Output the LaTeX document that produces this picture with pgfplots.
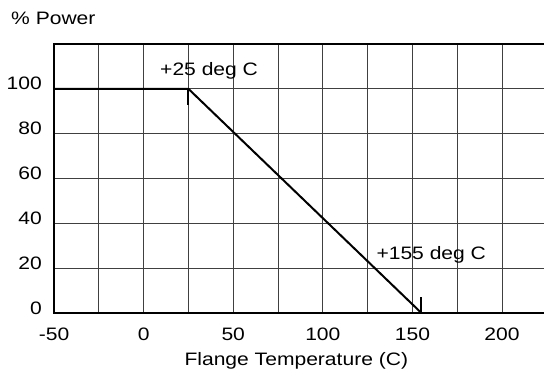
\documentclass[border=0pt]{standalone}
\usepackage{fontspec}
\setmainfont{Liberation Sans}[FakeStretch=1.17]
\usepackage{pgfplots}
\pgfplotsset{compat=1.18}
\begin{document}
\fontsize{18bp}{21bp}\selectfont
\begin{tikzpicture}[x=1bp,y=1bp]
\begin{axis}[
  at={(0,0)}, anchor=south west,
  scale only axis, width=490bp, height=269bp,
  xmin=-50, xmax=223.4, ymin=0, ymax=120,
  xtick={-50,0,50,100,150,200},
  minor xtick={-25,25,75,125,175},
  ytick={0,20,40,60,80,100},
  grid=both,
  major grid style={line width=0.9bp, black!75},
  minor grid style={line width=0.9bp, black!75},
  major tick length=0pt, minor tick length=0pt,
  axis line style={draw=none},
  /pgf/number format/assume math mode=true,
  xticklabel style={anchor=base, inner sep=0pt, yshift=-27bp},
  yticklabel style={anchor=base east, inner sep=0pt, xshift=-12bp, yshift=-1bp},
  clip=false,
]
\addplot[black, line width=2bp] coordinates {(-50,100) (25,100) (155,0)};
\addplot[black, line width=2bp] coordinates {(25,100) (25,93)};
\addplot[black, line width=2bp] coordinates {(155,0) (155,7)};
\draw[black, line width=2.5bp] (rel axis cs:1,1) -- (rel axis cs:0,1) -- (rel axis cs:0,0) -- (rel axis cs:1,0);
\end{axis}
\node[anchor=base west, inner sep=0pt] at (-43bp,288bp) {\% Power};
\node[anchor=base west, inner sep=0pt] at (106bp,237bp) {+25 deg C};
\node[anchor=base west, inner sep=0pt] at (322.3bp,53.3bp) {+155 deg C};
\node[anchor=base, inner sep=0pt] at (242.3bp,-52.5bp) {Flange Temperature (C)};
\pgfresetboundingbox
\path[use as bounding box] (-54bp,-61bp) rectangle (490bp,313bp);
\end{tikzpicture}
\end{document}
